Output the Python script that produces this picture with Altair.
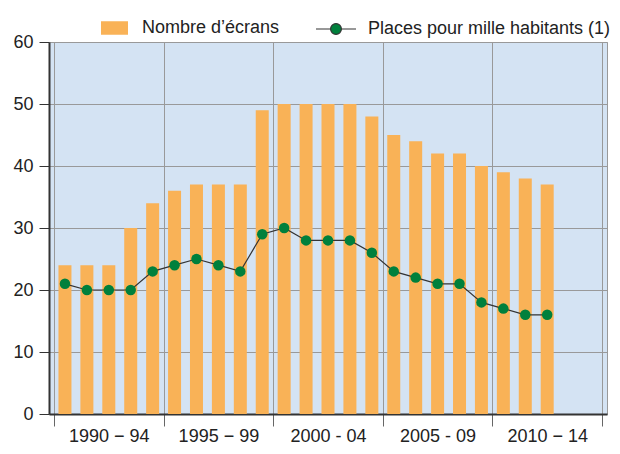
import altair as alt
import pandas as pd

# ---- data ----
years = list(range(1990, 2013))
ecrans = [24, 24, 24, 30, 34, 36, 37, 37, 37, 49, 50, 50, 50, 50, 48, 45, 44, 42, 42, 40, 39, 38, 37]
places = [21, 20, 20, 20, 23, 24, 25, 24, 23, 29, 30, 28, 28, 28, 26, 23, 22, 21, 21, 18, 17, 16, 16]
group_labels = ["1990 − 94", "1995 − 99", "2000 - 04", "2005 - 09", "2010 − 14"]
group_centers = [1992, 1997, 2002, 2007, 2012]
group_bounds = [1989.5, 1994.5, 1999.5, 2004.5, 2009.5, 2014.5]
y_ticks = [0, 10, 20, 30, 40, 50, 60]

BAR_LABEL = "Nombre d’écrans"
LINE_LABEL = "Places pour mille habitants (1)"

ORANGE = "#f9b257"
GREEN = "#00803c"
BG = "#d4e3f3"
FONT = "Liberation Sans"
FS = 18

df = pd.DataFrame({"annee": years, "ecrans": ecrans, "places": places})
df["s_bar"] = BAR_LABEL
df["s_line"] = LINE_LABEL

xscale = alt.Scale(domain=[group_bounds[0], group_bounds[-1]], nice=False, zero=False)
yscale = alt.Scale(domain=[0, 60], nice=False)

label_expr = "[" + ",".join("'" + s + "'" for s in group_labels) + "][round((datum.value - %d) / 5)]" % group_centers[0]

x_main = alt.X("annee:Q", scale=xscale, axis=alt.Axis(
    values=group_bounds, labels=False, title=None, tickSize=12, tickColor="#666",
    grid=True, gridColor="#999", gridWidth=1, domainColor="#333", domainWidth=2, orient="bottom"))
x_lab = alt.X("annee:Q", scale=xscale, axis=alt.Axis(
    values=group_centers, labelExpr=label_expr, title=None, ticks=False, domain=False,
    grid=False, labelPadding=13, labelFontSize=FS, labelColor="#222", labelFont=FONT,
    orient="bottom"))
y_main = alt.Y("ecrans:Q", scale=yscale, axis=alt.Axis(
    values=y_ticks, title=None, tickSize=10, tickColor="#333", domainColor="#333",
    domainWidth=2, grid=True, gridColor="#999", gridWidth=1, labelFontSize=FS,
    labelColor="#222", labelFont=FONT, labelPadding=6))

bar_sym = "M-1,-0.5H1V0.5H-1Z"
line_sym = "M-1,0H-0.27M0.27,0H1M0.27,0A0.27,0.27,0,1,1,-0.27,0A0.27,0.27,0,1,1,0.27,0Z"

bars = alt.Chart(df).mark_bar(size=13).encode(
    x=x_main,
    y=y_main,
    fill=alt.Fill("s_bar:N", scale=alt.Scale(domain=[BAR_LABEL], range=[ORANGE]),
                  legend=alt.Legend(title=None, orient="none", legendX=52, legendY=-27.5,
                                    symbolType=bar_sym, symbolSize=729, symbolStrokeWidth=0,
                                    labelFontSize=FS, labelColor="#222", labelFont=FONT,
                                    labelOffset=14, labelLimit=300)),
)

line = alt.Chart(df).mark_line(strokeWidth=1.2).encode(
    x=alt.X("annee:Q", scale=xscale, axis=None),
    y=alt.Y("places:Q", scale=yscale),
    stroke=alt.Stroke("s_line:N", scale=alt.Scale(domain=[LINE_LABEL], range=["#333"]),
                      legend=alt.Legend(title=None, orient="none", legendX=266, legendY=-34,
                                        symbolType=line_sym, symbolSize=1600,
                                        symbolFillColor=GREEN, symbolStrokeColor="#333",
                                        symbolStrokeWidth=1.2, symbolOpacity=1,
                                        labelFontSize=FS, labelColor="#222", labelFont=FONT,
                                        labelOffset=11, labelLimit=300)),
)

points = alt.Chart(df).mark_circle(size=110, color=GREEN, opacity=1).encode(
    x=x_lab,
    y=alt.Y("places:Q", scale=yscale),
)

chart = alt.layer(bars, line, points).resolve_axis(x="independent").properties(
    width=558, height=372,
    padding={"left": 4, "top": 0, "right": 0, "bottom": 0},
).configure_view(fill=BG, stroke="#999", strokeWidth=1)

chart.save("out.html", embed_options={"renderer": "svg", "actions": False})
